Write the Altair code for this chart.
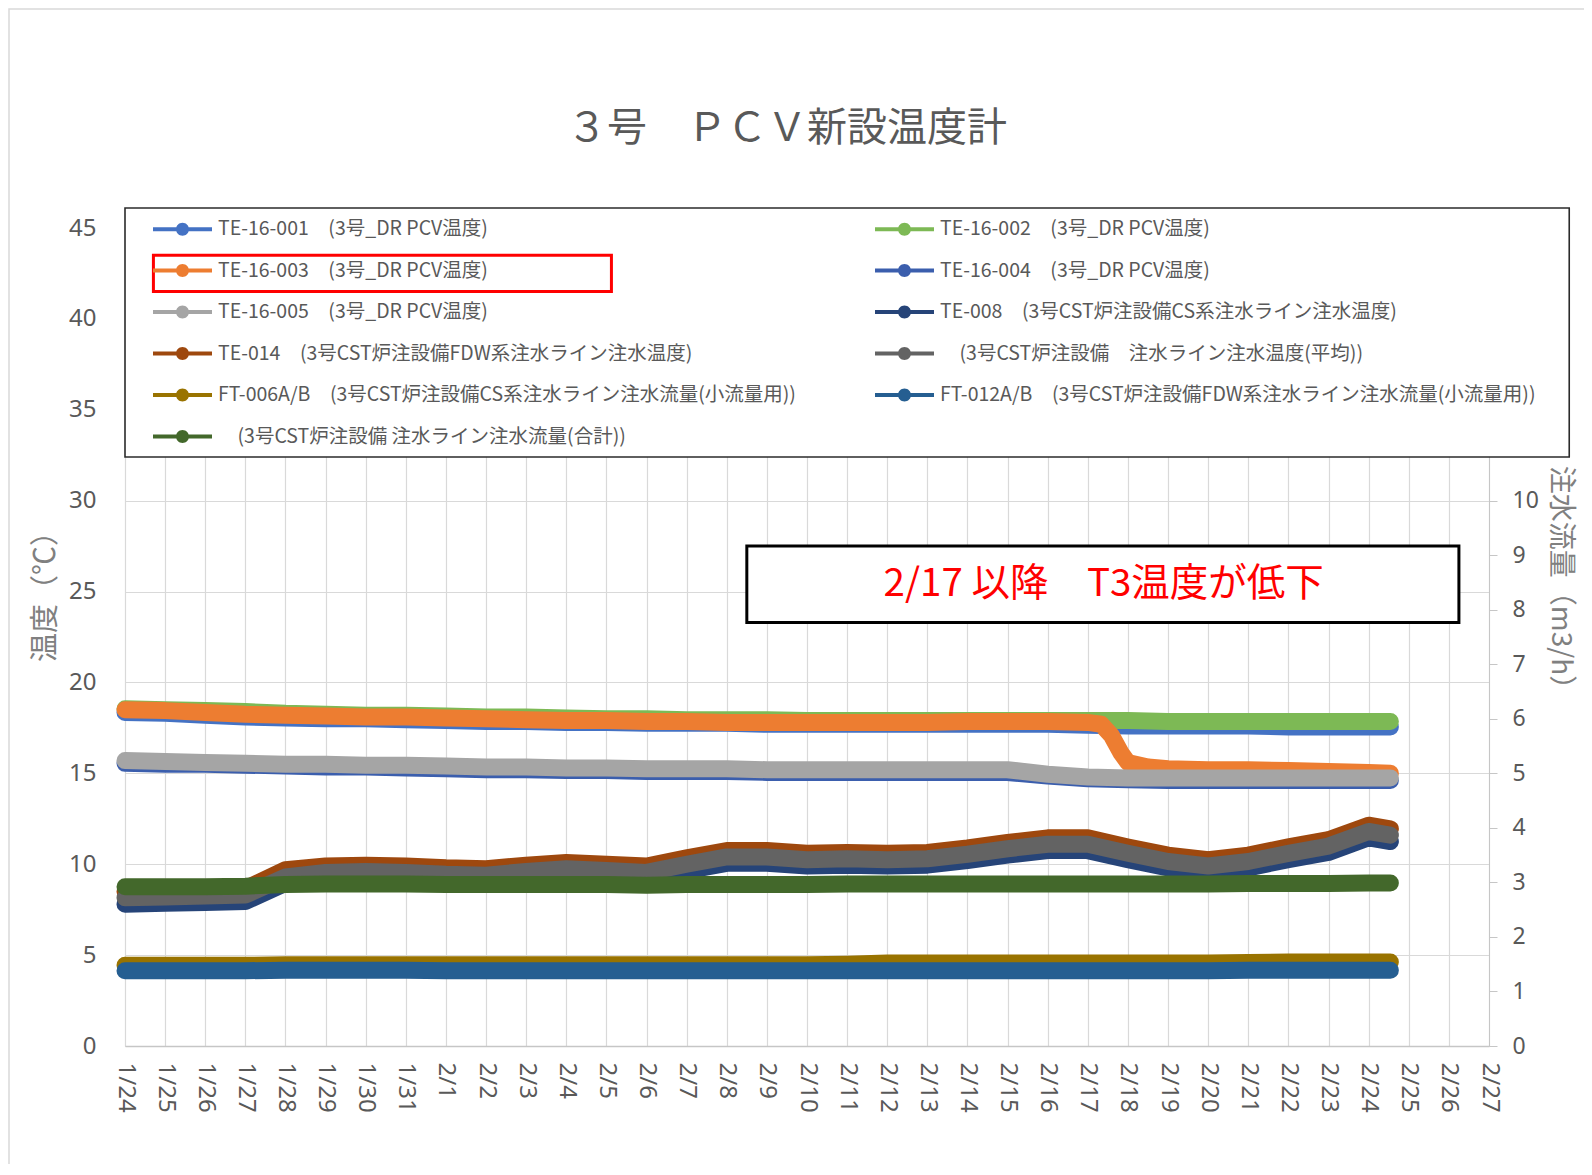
import altair as alt
import pandas as pd

# ---------------- data ----------------
# (a zero-width space keeps the leading ideographic space of two labels from being trimmed)
names = [
    "TE-16-001　(3号_DR PCV温度)",
    "TE-16-002　(3号_DR PCV温度)",
    "TE-16-003　(3号_DR PCV温度)",
    "TE-16-004　(3号_DR PCV温度)",
    "TE-16-005　(3号_DR PCV温度)",
    "TE-008　(3号CST炉注設備CS系注水ライン注水温度)",
    "TE-014　(3号CST炉注設備FDW系注水ライン注水温度)",
    "\u200b　(3号CST炉注設備　注水ライン注水温度(平均))",
    "FT-006A/B　(3号CST炉注設備CS系注水ライン注水流量(小流量用))",
    "FT-012A/B　(3号CST炉注設備FDW系注水ライン注水流量(小流量用))",
    "\u200b　(3号CST炉注設備 注水ライン注水流量(合計))",
]
colors = ["#4472C4", "#7DB955", "#ED7D31", "#3B5EAD", "#A5A5A5", "#264478",
          "#9E480E", "#636363", "#997300", "#255E91", "#43682B"]

# daily readings 1/24 .. 2/24 and the last reading 2/24 13:00
days = list(pd.date_range("2021-01-24", "2021-02-24", freq="D")) + [pd.Timestamp("2021-02-24 13:00")]

te16_001 = [18.35, 18.3, 18.2, 18.1, 18.05, 18.0, 18.0, 17.95, 17.9, 17.85, 17.85, 17.8, 17.8, 17.75, 17.75, 17.75,
            17.7, 17.7, 17.7, 17.7, 17.7, 17.7, 17.7, 17.7, 17.65, 17.6, 17.6, 17.6, 17.6, 17.55, 17.55, 17.55, 17.55]
te16_002 = [18.55, 18.5, 18.45, 18.4, 18.3, 18.25, 18.2, 18.2, 18.15, 18.1, 18.1, 18.05, 18.0, 18.0, 17.95, 17.95,
            17.95, 17.9, 17.9, 17.9, 17.9, 17.9, 17.9, 17.9, 17.9, 17.9, 17.85, 17.85, 17.85, 17.85, 17.85, 17.85, 17.85]
te16_003_times = list(pd.date_range("2021-01-24", "2021-02-17", freq="D")) + [pd.Timestamp(s) for s in [
    "2021-02-17 08:00", "2021-02-17 14:00", "2021-02-17 20:00", "2021-02-18 00:00", "2021-02-18 12:00",
    "2021-02-19", "2021-02-20", "2021-02-21", "2021-02-22", "2021-02-23", "2021-02-24", "2021-02-24 13:00"]]
te16_003 = [18.5, 18.45, 18.35, 18.25, 18.2, 18.15, 18.1, 18.1, 18.05, 18.0, 17.95, 17.9, 17.9, 17.85, 17.85, 17.8,
            17.8, 17.8, 17.8, 17.8, 17.8, 17.85, 17.85, 17.85, 17.8,
            17.7, 17.1, 16.1, 15.6, 15.35, 15.25, 15.2, 15.2, 15.15, 15.1, 15.05, 15.0]
te16_004 = [15.55, 15.5, 15.5, 15.45, 15.4, 15.35, 15.35, 15.3, 15.25, 15.2, 15.2, 15.15, 15.15, 15.1, 15.1, 15.1,
            15.05, 15.05, 15.05, 15.05, 15.05, 15.05, 15.05, 14.85, 14.7, 14.65, 14.6, 14.6, 14.6, 14.6, 14.6, 14.6, 14.6]
te16_005 = [15.7, 15.65, 15.6, 15.55, 15.5, 15.5, 15.45, 15.45, 15.4, 15.35, 15.35, 15.3, 15.3, 15.25, 15.25, 15.25,
            15.2, 15.2, 15.2, 15.2, 15.2, 15.2, 15.2, 14.95, 14.8, 14.75, 14.75, 14.75, 14.75, 14.75, 14.75, 14.75, 14.75]
te_008 = [7.8, 7.85, 7.9, 7.95, 8.95, 9.2, 9.25, 9.2, 9.1, 9.05, 9.25, 9.4, 9.3, 9.2, 9.65, 10.05,
          10.05, 9.9, 9.95, 9.9, 9.95, 10.2, 10.5, 10.75, 10.75, 10.25, 9.8, 9.55, 9.8, 10.25, 10.65, 11.45, 11.25]
te_014 = [8.5, 8.55, 8.6, 8.65, 9.7, 9.9, 9.95, 9.9, 9.8, 9.75, 9.95, 10.1, 10.0, 9.9, 10.35, 10.75,
          10.75, 10.6, 10.65, 10.6, 10.65, 10.9, 11.2, 11.45, 11.45, 10.95, 10.5, 10.25, 10.5, 10.95, 11.35, 12.15, 11.95]
te_avg = [8.15, 8.2, 8.25, 8.3, 9.3, 9.55, 9.6, 9.55, 9.45, 9.4, 9.6, 9.75, 9.65, 9.55, 10.0, 10.4,
          10.4, 10.25, 10.3, 10.25, 10.3, 10.55, 10.85, 11.1, 11.1, 10.6, 10.15, 9.9, 10.15, 10.6, 11.0, 11.8, 11.6]
ft_006 = [1.48, 1.48, 1.48, 1.48, 1.49, 1.49, 1.49, 1.49, 1.49, 1.49, 1.49, 1.49, 1.49, 1.49, 1.49, 1.49,
          1.49, 1.49, 1.5, 1.52, 1.52, 1.52, 1.52, 1.52, 1.52, 1.52, 1.52, 1.52, 1.53, 1.54, 1.54, 1.54, 1.54]
ft_012 = [1.38, 1.38, 1.38, 1.38, 1.39, 1.39, 1.39, 1.39, 1.38, 1.38, 1.38, 1.38, 1.38, 1.38, 1.38, 1.38,
          1.38, 1.38, 1.38, 1.38, 1.38, 1.38, 1.38, 1.38, 1.38, 1.38, 1.38, 1.38, 1.39, 1.39, 1.39, 1.39, 1.39]
ft_total = [2.92, 2.92, 2.92, 2.93, 2.96, 2.97, 2.97, 2.97, 2.96, 2.96, 2.96, 2.96, 2.96, 2.95, 2.96, 2.96,
            2.96, 2.96, 2.97, 2.97, 2.97, 2.97, 2.97, 2.97, 2.97, 2.97, 2.97, 2.97, 2.98, 2.98, 2.98, 2.99, 2.99]

series_values = [te16_001, te16_002, te16_003, te16_004, te16_005, te_008, te_014, te_avg, ft_006, ft_012, ft_total]
series_times = [days, days, te16_003_times, days, days, days, days, days, days, days, days]

tick_days = list(pd.date_range("2021-01-24", "2021-02-27", freq="D"))

title_text = "３号　ＰＣＶ新設温度計"
left_title = "温度（℃）"
right_title = "注水流量（m3/h）"
note_text = "2/17 以降　T3温度が低下"

# ---------------- chart ----------------
W, H = 1364, 818
CJK = "Noto Sans CJK JP"
LAT = "Noto Sans"

x_scale = alt.Scale(domain=[alt.DateTime(year=2021, month=1, date=24), alt.DateTime(year=2021, month=2, date=27)])
x_axis = alt.Axis(
    values=[alt.DateTime(year=d.year, month=d.month, date=d.day) for d in tick_days],
    format="%-m/%-d", labelAngle=90, labelFlush=False, labelOverlap=False, labelPadding=16,
    labelFont=LAT, labelFontSize=24, labelColor="#595959", ticks=False,
    domainColor="#C6C6C6", domainWidth=1.3, grid=True, gridColor="#D9D9D9", gridWidth=1.2, title=None,
)
left_axis = alt.Axis(
    values=list(range(0, 50, 5)), grid=True, gridColor="#D9D9D9", gridWidth=1.2, domain=False, ticks=False,
    labelFont=LAT, labelFontSize=24, labelColor="#595959", labelPadding=29,
    title=left_title, titleFont=CJK, titleFontSize=29, titleFontWeight="normal", titleColor="#808080",
    titleX=-80, titleY=361, titleAngle=-90, titleBaseline="middle", titleAlign="center",
)
right_axis = alt.Axis(
    orient="right", values=list(range(0, 11)), grid=False, domain=True, domainColor="#C6C6C6",
    ticks=True, tickSize=8, tickColor="#C6C6C6",
    labelFont=LAT, labelFontSize=23, labelColor="#595959", labelPadding=15,
    title=right_title, titleFont=CJK, titleFontSize=28, titleFontWeight="normal", titleColor="#808080",
    titleX=70, titleY=356, titleAngle=90, titleBaseline="middle", titleAlign="center",
)

left_scale = alt.Scale(domain=[0, 45], nice=False)
x_enc = alt.X("time:T", scale=x_scale, axis=x_axis)
y_left = alt.Y("value:Q", scale=left_scale, axis=left_axis)
y_right = alt.Y("value:Q", scale=alt.Scale(domain=[0, 15], nice=False), axis=right_axis)


def line_layer(i, y_enc):
    df = pd.DataFrame({"time": series_times[i], "value": series_values[i]})
    return alt.Chart(df).mark_line(
        color=colors[i], strokeWidth=17, strokeCap="round", strokeJoin="round"
    ).encode(x=x_enc, y=y_enc)


temp_lines = [line_layer(i, y_left) for i in range(8)]
flow_lines = [line_layer(i, y_right) for i in range(8, 11)]

# light grey frame of the chart area
frame = alt.Chart(pd.DataFrame({"k": [0]})).mark_rect(
    fill="white", fillOpacity=0, stroke="#D9D9D9", strokeWidth=1.5
).encode(x=alt.value(-116), x2=alt.value(W + 300), y=alt.value(-219), y2=alt.value(H + 300))

# annotation geometry (in data coordinates)
boxes = pd.DataFrame({
    "kind": ["legend", "red", "note"],
    "t1": [pd.Timestamp("2021-01-24 00:00"), pd.Timestamp("2021-01-24 17:00"), pd.Timestamp("2021-02-08 12:00")],
    "t2": [pd.Timestamp("2021-03-01 00:00"), pd.Timestamp("2021-02-05 03:00"), pd.Timestamp("2021-02-26 06:00")],
    "v1": [32.4, 41.5, 23.3],
    "v2": [46.1, 43.5, 27.5],
})

x_box = alt.X("t1:T", scale=x_scale, axis=x_axis)
y_box = alt.Y("v1:Q", scale=left_scale, axis=left_axis)

legend_bg = alt.Chart(boxes[boxes.kind == "legend"]).mark_rect(
    fill="white", stroke="#2B2B2B", strokeWidth=1.6
).encode(x=x_box, x2="t2:T", y=y_box, y2="v2:Q")

red_box = alt.Chart(boxes[boxes.kind == "red"]).mark_rect(
    fill="white", fillOpacity=0, stroke="#FF0000", strokeWidth=3
).encode(x=x_box, x2="t2:T", y=y_box, y2="v2:Q")

note_box = alt.Chart(boxes[boxes.kind == "note"]).mark_rect(
    fill="white", stroke="#000000", strokeWidth=3
).encode(x=x_box, x2="t2:T", y=y_box, y2="v2:Q")

note_df = pd.DataFrame({"t1": [pd.Timestamp("2021-02-17 09:30")], "v1": [25.4], "label": [note_text]})
note_text_layer = alt.Chart(note_df).mark_text(
    font=CJK, fontSize=38.5, color="#FF0000", align="center", baseline="middle"
).encode(x=x_box, y=y_box, text="label:N")

# Vega fills legend columns top-to-bottom: list the entries so that they read row by row
legend_order = [names[i] for i in (0, 2, 4, 6, 8, 10, 1, 3, 5, 7, 9)]
legend_symbol = ("M-2.95,-0.2L2.95,-0.2L2.95,0.2L-2.95,0.2Z "
                 "M0.65,0A0.65,0.65,0,1,1,-0.65,0A0.65,0.65,0,1,1,0.65,0Z")
legend_layer = alt.Chart(pd.DataFrame({"series": names})).mark_circle(size=0, opacity=1).encode(
    x=alt.value(0), y=alt.value(0),
    color=alt.Color("series:N", scale=alt.Scale(domain=names, range=colors), legend=alt.Legend(
        title=None, orient="none", legendX=47.5, legendY=-9, columns=2, gridAlign="each",
        values=legend_order, padding=0, rowPadding=21.5, columnPadding=78,
        symbolType=legend_symbol, symbolSize=400, symbolStrokeWidth=0, symbolOpacity=1,
        labelFont=CJK, labelFontSize=19.5, labelColor="#595959", labelLimit=1200, labelOffset=25.5,
    )),
)

left_group = alt.layer(frame, legend_bg, red_box, note_box, note_text_layer, *temp_lines, legend_layer)
right_group = alt.layer(*flow_lines)

chart = alt.layer(left_group, right_group).resolve_scale(y="independent").properties(
    width=W, height=H,
    title=alt.TitleParams(title_text, font=CJK, fontSize=40, fontWeight="normal", color="#595959",
                          anchor="middle", frame="group", dx=-20, offset=-141),
    autosize=alt.AutoSizeParams(type="none"),
    padding={"left": 117, "top": 220, "right": 95, "bottom": 118},
).configure_view(stroke=None).configure(background="white")

chart.save("out.html", embed_options={"renderer": "svg", "actions": False})
